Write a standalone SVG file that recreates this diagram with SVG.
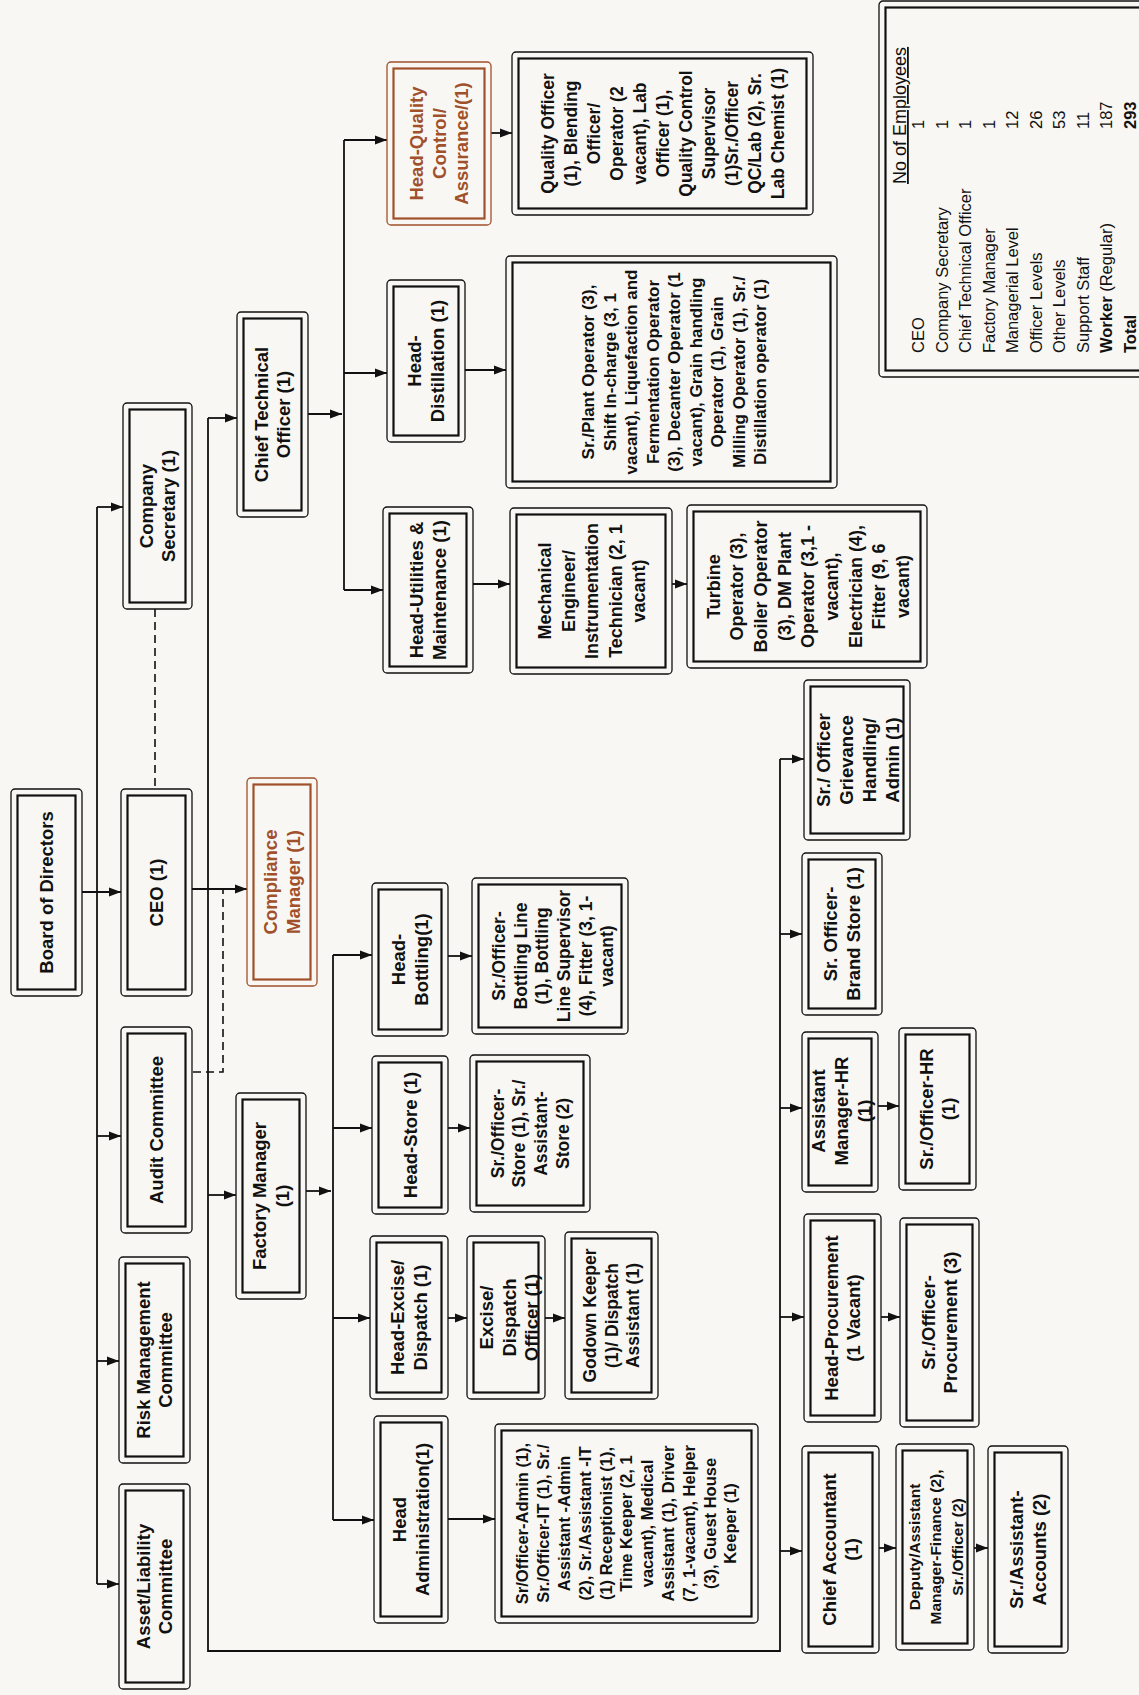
<svg xmlns="http://www.w3.org/2000/svg" width="1139" height="1695" viewBox="0 0 1139 1695">
<defs>
<style>
.o{fill:none;stroke:#111;stroke-width:1.3}
.i{fill:none;stroke:#111;stroke-width:2.2}
.ob{fill:none;stroke:#a0502a;stroke-width:1.3}
.ib{fill:none;stroke:#a0502a;stroke-width:2.2}
.n{font-family:"Liberation Sans",Arial,sans-serif;font-weight:bold;font-size:18.5px;fill:#111;text-anchor:middle}
.nb{font-family:"Liberation Sans",Arial,sans-serif;font-weight:bold;font-size:18.5px;fill:#a0502a;text-anchor:middle}
.s{font-family:"Liberation Sans",Arial,sans-serif;font-weight:bold;font-size:17.5px;fill:#111;text-anchor:middle}
.c{fill:none;stroke:#111;stroke-width:1.8}
.d{fill:none;stroke:#111;stroke-width:1.6;stroke-dasharray:8 5}
.l{font-family:"Liberation Sans",Arial,sans-serif;font-size:16.5px;fill:#111}
</style>
<marker id="a" markerWidth="12" markerHeight="10" refX="12" refY="5" orient="auto" markerUnits="userSpaceOnUse"><path d="M0,0.5 L12,5 L0,9.5 z" fill="#111"/></marker>
</defs>
<rect x="0" y="0" width="1139" height="1695" fill="#f8f7f3"/>

<g id="connectors">
<path class="c" d="M82,892 H121" marker-end="url(#a)"/>
<path class="c" d="M97,507 V1584"/>
<path class="c" d="M97,507 H123" marker-end="url(#a)"/>
<path class="c" d="M97,1136 H121" marker-end="url(#a)"/>
<path class="c" d="M97,1361 H119" marker-end="url(#a)"/>
<path class="c" d="M97,1584 H119" marker-end="url(#a)"/>
<path class="c" d="M192,889 H247" marker-end="url(#a)"/>
<path class="c" d="M208,418 V1651 H780 V759"/>
<path class="c" d="M208,418 H237" marker-end="url(#a)"/>
<path class="c" d="M208,1195 H236" marker-end="url(#a)"/>
<path class="c" d="M780,759 H804" marker-end="url(#a)"/>
<path class="c" d="M780,934 H802" marker-end="url(#a)"/>
<path class="c" d="M780,1108 H802" marker-end="url(#a)"/>
<path class="c" d="M780,1317 H804" marker-end="url(#a)"/>
<path class="c" d="M780,1551 H802" marker-end="url(#a)"/>
<path class="c" d="M878,1106 H899" marker-end="url(#a)"/>
<path class="c" d="M881,1317 H900" marker-end="url(#a)"/>
<path class="c" d="M879,1548 H896" marker-end="url(#a)"/>
<path class="c" d="M974,1548 H988" marker-end="url(#a)"/>
<path class="c" d="M308,414 H342" marker-end="url(#a)"/>
<path class="c" d="M344,140 V590"/>
<path class="c" d="M344,140 H387" marker-end="url(#a)"/>
<path class="c" d="M344,373 H387" marker-end="url(#a)"/>
<path class="c" d="M344,590 H383" marker-end="url(#a)"/>
<path class="c" d="M491,133 H512" marker-end="url(#a)"/>
<path class="c" d="M465,370 H506" marker-end="url(#a)"/>
<path class="c" d="M473,584 H510" marker-end="url(#a)"/>
<path class="c" d="M672,584 H687" marker-end="url(#a)"/>
<path class="c" d="M306,1191 H331" marker-end="url(#a)"/>
<path class="c" d="M333,955 V1520"/>
<path class="c" d="M333,955 H372" marker-end="url(#a)"/>
<path class="c" d="M333,1128 H372" marker-end="url(#a)"/>
<path class="c" d="M333,1318 H370" marker-end="url(#a)"/>
<path class="c" d="M333,1520 H374" marker-end="url(#a)"/>
<path class="c" d="M448,956 H472" marker-end="url(#a)"/>
<path class="c" d="M448,1128 H470" marker-end="url(#a)"/>
<path class="c" d="M448,1318 H467" marker-end="url(#a)"/>
<path class="c" d="M545,1318 H565" marker-end="url(#a)"/>
<path class="c" d="M448,1519 H495" marker-end="url(#a)"/>
<path class="d" d="M155,609 V789"/>
<path class="d" d="M193,1072 H223 V889"/>
</g>

<g id="board">
<rect class="o" x="11" y="789" width="71" height="207" rx="4"/>
<rect class="i" x="17.5" y="795.5" width="58" height="194"/>
<text class="n" transform="translate(46.5 892.5) rotate(-90)"><tspan x="0" y="6.5">Board of Directors</tspan></text>
</g>
<g id="ceo">
<rect class="o" x="121" y="789" width="71" height="207" rx="4"/>
<rect class="i" x="127.5" y="795.5" width="58" height="194"/>
<text class="n" transform="translate(156.5 892.5) rotate(-90)"><tspan x="0" y="6.5">CEO (1)</tspan></text>
</g>
<g id="compliance">
<rect class="ob" x="247" y="778" width="70" height="208" rx="4"/>
<rect class="ib" x="253.5" y="784.5" width="57" height="195"/>
<text class="nb" transform="translate(282 882) rotate(-90)"><tspan x="0" y="-4.75">Compliance</tspan><tspan x="0" dy="22.5">Manager (1)</tspan></text>
</g>
<g id="company-secretary">
<rect class="o" x="123" y="403" width="69" height="206" rx="4"/>
<rect class="i" x="129.5" y="409.5" width="56" height="193"/>
<text class="n" transform="translate(157.5 506) rotate(-90)"><tspan x="0" y="-4.75">Company</tspan><tspan x="0" dy="22.5">Secretary (1)</tspan></text>
</g>
<g id="audit">
<rect class="o" x="121" y="1027" width="71" height="206" rx="4"/>
<rect class="i" x="127.5" y="1033.5" width="58" height="193"/>
<text class="n" transform="translate(156.5 1130) rotate(-90)"><tspan x="0" y="6.5">Audit Committee</tspan></text>
</g>
<g id="risk">
<rect class="o" x="119" y="1257" width="71" height="206" rx="4"/>
<rect class="i" x="125.5" y="1263.5" width="58" height="193"/>
<text class="n" transform="translate(154.5 1360) rotate(-90)"><tspan x="0" y="-4.75">Risk Management</tspan><tspan x="0" dy="22.5">Committee</tspan></text>
</g>
<g id="asset">
<rect class="o" x="119" y="1484" width="71" height="205" rx="4"/>
<rect class="i" x="125.5" y="1490.5" width="58" height="192"/>
<text class="n" transform="translate(154.5 1586.5) rotate(-90)"><tspan x="0" y="-4.75">Asset/Liability</tspan><tspan x="0" dy="22.5">Committee</tspan></text>
</g>
<g id="cto">
<rect class="o" x="237" y="312" width="71" height="205" rx="4"/>
<rect class="i" x="243.5" y="318.5" width="58" height="192"/>
<text class="n" transform="translate(272.5 414.5) rotate(-90)"><tspan x="0" y="-4.75">Chief Technical</tspan><tspan x="0" dy="22.5">Officer (1)</tspan></text>
</g>
<g id="factory-manager">
<rect class="o" x="236" y="1093" width="70" height="206" rx="4"/>
<rect class="i" x="242.5" y="1099.5" width="57" height="193"/>
<text class="n" transform="translate(271 1196) rotate(-90)"><tspan x="0" y="-4.75">Factory Manager</tspan><tspan x="0" dy="22.5">(1)</tspan></text>
</g>
<g id="head-qc">
<rect class="ob" x="387" y="62" width="104" height="163" rx="4"/>
<rect class="ib" x="393.5" y="68.5" width="91" height="150"/>
<text class="nb" transform="translate(439 143.5) rotate(-90)"><tspan x="0" y="-16">Head-Quality</tspan><tspan x="0" dy="22.5">Control/</tspan><tspan x="0" dy="22.5">Assurance/(1)</tspan></text>
</g>
<g id="qc-staff">
<rect class="o" x="512" y="52" width="301" height="163" rx="4"/>
<rect class="i" x="518.5" y="58.5" width="288" height="150"/>
<text class="s" transform="translate(662.5 133.5) rotate(-90)"><tspan x="0" y="-108.9">Quality Officer</tspan><tspan x="0" dy="23">(1), Blending</tspan><tspan x="0" dy="23">Officer/</tspan><tspan x="0" dy="23">Operator (2</tspan><tspan x="0" dy="23">vacant), Lab</tspan><tspan x="0" dy="23">Officer (1),</tspan><tspan x="0" dy="23">Quality Control</tspan><tspan x="0" dy="23">Supervisor</tspan><tspan x="0" dy="23">(1)Sr./Officer</tspan><tspan x="0" dy="23">QC/Lab (2), Sr.</tspan><tspan x="0" dy="23">Lab Chemist (1)</tspan></text>
</g>
<g id="head-distillation">
<rect class="o" x="387" y="280" width="78" height="162" rx="4"/>
<rect class="i" x="393.5" y="286.5" width="65" height="149"/>
<text class="n" transform="translate(426 361) rotate(-90)"><tspan x="0" y="-4.75">Head-</tspan><tspan x="0" dy="22.5">Distillation (1)</tspan></text>
</g>
<g id="distillation-staff">
<rect class="o" x="506" y="256" width="331" height="232" rx="4"/>
<rect class="i" x="512.5" y="262.5" width="318" height="219"/>
<text class="s" style="font-size:17px" transform="translate(674 372) rotate(-90)"><tspan x="0" y="-80">Sr./Plant Operator (3),</tspan><tspan x="0" dy="21.5">Shift In-charge (3, 1</tspan><tspan x="0" dy="21.5">vacant), Liquefaction and</tspan><tspan x="0" dy="21.5">Fermentation Operator</tspan><tspan x="0" dy="21.5">(3), Decanter Operator (1</tspan><tspan x="0" dy="21.5">vacant), Grain handling</tspan><tspan x="0" dy="21.5">Operator (1), Grain</tspan><tspan x="0" dy="21.5">Milling Operator (1), Sr./</tspan><tspan x="0" dy="21.5">Distillation operator (1)</tspan></text>
</g>
<g id="head-utilities">
<rect class="o" x="383" y="507" width="90" height="166" rx="4"/>
<rect class="i" x="389.5" y="513.5" width="77" height="153"/>
<text class="n" transform="translate(428 590) rotate(-90)"><tspan x="0" y="-4.75">Head-Utilities &amp;</tspan><tspan x="0" dy="22.5">Maintenance (1)</tspan></text>
</g>
<g id="mechanical">
<rect class="o" x="510" y="508" width="162" height="166" rx="4"/>
<rect class="i" x="516.5" y="514.5" width="149" height="153"/>
<text class="n" style="font-size:18px" transform="translate(592 591) rotate(-90)"><tspan x="0" y="-40.7">Mechanical</tspan><tspan x="0" dy="23.5">Engineer/</tspan><tspan x="0" dy="23.5">Instrumentation</tspan><tspan x="0" dy="23.5">Technician (2, 1</tspan><tspan x="0" dy="23.5">vacant)</tspan></text>
</g>
<g id="turbine">
<rect class="o" x="687" y="505" width="240" height="163" rx="4"/>
<rect class="i" x="693.5" y="511.5" width="227" height="150"/>
<text class="n" style="font-size:18px" transform="translate(808 586.5) rotate(-90)"><tspan x="0" y="-88.5">Turbine</tspan><tspan x="0" dy="23.7">Operator (3),</tspan><tspan x="0" dy="23.7">Boiler Operator</tspan><tspan x="0" dy="23.7">(3), DM Plant</tspan><tspan x="0" dy="23.7">Operator (3,1 -</tspan><tspan x="0" dy="23.7">vacant),</tspan><tspan x="0" dy="23.7">Electrician (4),</tspan><tspan x="0" dy="23.7">Fitter (9, 6</tspan><tspan x="0" dy="23.7">vacant)</tspan></text>
</g>
<g id="head-bottling">
<rect class="o" x="372" y="883" width="76" height="153" rx="4"/>
<rect class="i" x="378.5" y="889.5" width="63" height="140"/>
<text class="n" transform="translate(410 959.5) rotate(-90)"><tspan x="0" y="-4.75">Head-</tspan><tspan x="0" dy="22.5">Bottling(1)</tspan></text>
</g>
<g id="bottling-staff">
<rect class="o" x="472" y="878" width="156" height="156" rx="4"/>
<rect class="i" x="478.5" y="884.5" width="143" height="143"/>
<text class="s" transform="translate(553 956) rotate(-90)"><tspan x="0" y="-47.9">Sr./Officer-</tspan><tspan x="0" dy="21.6">Bottling Line</tspan><tspan x="0" dy="21.6">(1), Bottling</tspan><tspan x="0" dy="21.6">Line Supervisor</tspan><tspan x="0" dy="21.6">(4), Fitter (3, 1-</tspan><tspan x="0" dy="21.6">vacant)</tspan></text>
</g>
<g id="head-store">
<rect class="o" x="372" y="1056" width="76" height="158" rx="4"/>
<rect class="i" x="378.5" y="1062.5" width="63" height="145"/>
<text class="n" transform="translate(410 1135) rotate(-90)"><tspan x="0" y="6.5">Head-Store (1)</tspan></text>
</g>
<g id="store-staff">
<rect class="o" x="470" y="1055" width="120" height="157" rx="4"/>
<rect class="i" x="476.5" y="1061.5" width="107" height="144"/>
<text class="s" transform="translate(530 1133.5) rotate(-90)"><tspan x="0" y="-26.3">Sr./Officer-</tspan><tspan x="0" dy="21.6">Store (1), Sr./</tspan><tspan x="0" dy="21.6">Assistant-</tspan><tspan x="0" dy="21.6">Store (2)</tspan></text>
</g>
<g id="head-excise">
<rect class="o" x="370" y="1236" width="78" height="163" rx="4"/>
<rect class="i" x="376.5" y="1242.5" width="65" height="150"/>
<text class="n" transform="translate(409 1317.5) rotate(-90)"><tspan x="0" y="-4.75">Head-Excise/</tspan><tspan x="0" dy="22.5">Dispatch (1)</tspan></text>
</g>
<g id="excise-officer">
<rect class="o" x="467" y="1236" width="78" height="163" rx="4"/>
<rect class="i" x="473.5" y="1242.5" width="65" height="150"/>
<text class="n" transform="translate(509 1317.5) rotate(-90)"><tspan x="0" y="-16">Excise/</tspan><tspan x="0" dy="22.5">Dispatch</tspan><tspan x="0" dy="22.5">Officer (1)</tspan></text>
</g>
<g id="godown">
<rect class="o" x="565" y="1232" width="93" height="167" rx="4"/>
<rect class="i" x="571.5" y="1238.5" width="80" height="154"/>
<text class="s" transform="translate(611.5 1315.5) rotate(-90)"><tspan x="0" y="-15.5">Godown Keeper</tspan><tspan x="0" dy="21.6">(1)/ Dispatch</tspan><tspan x="0" dy="21.6">Assistant (1)</tspan></text>
</g>
<g id="head-admin">
<rect class="o" x="374" y="1416" width="74" height="207" rx="4"/>
<rect class="i" x="380.5" y="1422.5" width="61" height="194"/>
<text class="n" transform="translate(411 1519.5) rotate(-90)"><tspan x="0" y="-4.75">Head</tspan><tspan x="0" dy="22.5">Administration(1)</tspan></text>
</g>
<g id="admin-staff">
<rect class="o" x="495" y="1424" width="263" height="199" rx="4"/>
<rect class="i" x="501.5" y="1430.5" width="250" height="186"/>
<text class="s" style="font-size:16.5px" transform="translate(626.5 1523.5) rotate(-90)"><tspan x="0" y="-98.2">Sr/Officer-Admin (1),</tspan><tspan x="0" dy="20.8">Sr./Officer-IT (1), Sr./</tspan><tspan x="0" dy="20.8">Assistant -Admin</tspan><tspan x="0" dy="20.8">(2), Sr./Assistant -IT</tspan><tspan x="0" dy="20.8">(1) Receptionist (1),</tspan><tspan x="0" dy="20.8">Time Keeper (2, 1</tspan><tspan x="0" dy="20.8">vacant), Medical</tspan><tspan x="0" dy="20.8">Assistant (1), Driver</tspan><tspan x="0" dy="20.8">(7, 1-vacant), Helper</tspan><tspan x="0" dy="20.8">(3), Guest House</tspan><tspan x="0" dy="20.8">Keeper (1)</tspan></text>
</g>
<g id="grievance">
<rect class="o" x="804" y="680" width="106" height="160" rx="4"/>
<rect class="i" x="810.5" y="686.5" width="93" height="147"/>
<text class="n" transform="translate(858 760) rotate(-90)"><tspan x="0" y="-28">Sr./ Officer</tspan><tspan x="0" dy="23">Grievance</tspan><tspan x="0" dy="23">Handling/</tspan><tspan x="0" dy="23">Admin (1)</tspan></text>
</g>
<g id="brand-store">
<rect class="o" x="802" y="853" width="80" height="162" rx="4"/>
<rect class="i" x="808.5" y="859.5" width="67" height="149"/>
<text class="n" transform="translate(842 934) rotate(-90)"><tspan x="0" y="-4.75">Sr. Officer-</tspan><tspan x="0" dy="22.5">Brand Store (1)</tspan></text>
</g>
<g id="asst-manager-hr">
<rect class="o" x="802" y="1032" width="76" height="160" rx="4"/>
<rect class="i" x="808.5" y="1038.5" width="63" height="147"/>
<text class="n" transform="translate(841 1111) rotate(-90)"><tspan x="0" y="-16.5">Assistant</tspan><tspan x="0" dy="23">Manager-HR</tspan><tspan x="0" dy="23">(1)</tspan></text>
</g>
<g id="officer-hr">
<rect class="o" x="899" y="1028" width="77" height="162" rx="4"/>
<rect class="i" x="905.5" y="1034.5" width="64" height="149"/>
<text class="n" transform="translate(937.5 1109) rotate(-90)"><tspan x="0" y="-4.75">Sr./Officer-HR</tspan><tspan x="0" dy="22.5">(1)</tspan></text>
</g>
<g id="head-procurement">
<rect class="o" x="804" y="1214" width="77" height="208" rx="4"/>
<rect class="i" x="810.5" y="1220.5" width="64" height="195"/>
<text class="n" transform="translate(842.5 1318) rotate(-90)"><tspan x="0" y="-4.75">Head-Procurement</tspan><tspan x="0" dy="22.5">(1 Vacant)</tspan></text>
</g>
<g id="officer-procurement">
<rect class="o" x="900" y="1218" width="79" height="209" rx="4"/>
<rect class="i" x="906.5" y="1224.5" width="66" height="196"/>
<text class="n" transform="translate(939.5 1322.5) rotate(-90)"><tspan x="0" y="-4.75">Sr./Officer-</tspan><tspan x="0" dy="22.5">Procurement (3)</tspan></text>
</g>
<g id="chief-accountant">
<rect class="o" x="802" y="1446" width="77" height="207" rx="4"/>
<rect class="i" x="808.5" y="1452.5" width="64" height="194"/>
<text class="n" transform="translate(840.5 1549.5) rotate(-90)"><tspan x="0" y="-4.75">Chief Accountant</tspan><tspan x="0" dy="22.5">(1)</tspan></text>
</g>
<g id="deputy-finance">
<rect class="o" x="896" y="1444" width="78" height="206" rx="4"/>
<rect class="i" x="902.5" y="1450.5" width="65" height="193"/>
<text class="s" style="font-size:15.5px" transform="translate(936 1547) rotate(-90)"><tspan x="0" y="-16.1">Deputy/Assistant</tspan><tspan x="0" dy="21.5">Manager-Finance (2),</tspan><tspan x="0" dy="21.5">Sr./Officer (2)</tspan></text>
</g>
<g id="assistant-accounts">
<rect class="o" x="988" y="1446" width="80" height="207" rx="4"/>
<rect class="i" x="994.5" y="1452.5" width="67" height="194"/>
<text class="n" transform="translate(1028 1549.5) rotate(-90)"><tspan x="0" y="-4.75">Sr./Assistant-</tspan><tspan x="0" dy="22.5">Accounts (2)</tspan></text>
</g>

<g id="legend">
<rect class="o" x="879" y="1" width="300" height="376" rx="4"/>
<rect class="i" x="885.5" y="7.5" width="300" height="363"/>
<g transform="rotate(-90)">
<text class="l" x="-184" y="906" style="font-size:18px" text-decoration="underline">No of Employees</text>
<text class="l" x="-353" y="924">CEO</text>
<text class="l" x="-353" y="947.5">Company Secretary</text>
<text class="l" x="-353" y="971">Chief Technical Officer</text>
<text class="l" x="-353" y="994.5">Factory Manager</text>
<text class="l" x="-353" y="1018">Managerial Level</text>
<text class="l" x="-353" y="1041.5">Officer Levels</text>
<text class="l" x="-353" y="1065">Other Levels</text>
<text class="l" x="-353" y="1088.5">Support Staff</text>
<text class="l" x="-353" y="1112"><tspan font-weight="bold">Worker</tspan> (Regular)</text>
<text class="l" x="-353" y="1135.5" font-weight="bold">Total</text>
<text class="l" x="-129" y="924">1</text>
<text class="l" x="-129" y="947.5">1</text>
<text class="l" x="-129" y="971">1</text>
<text class="l" x="-129" y="994.5">1</text>
<text class="l" x="-129" y="1018">12</text>
<text class="l" x="-129" y="1041.5">26</text>
<text class="l" x="-129" y="1065">53</text>
<text class="l" x="-129" y="1088.5">11</text>
<text class="l" x="-129" y="1112">187</text>
<text class="l" x="-129" y="1135.5" font-weight="bold">293</text>
</g>
</g>
</svg>
